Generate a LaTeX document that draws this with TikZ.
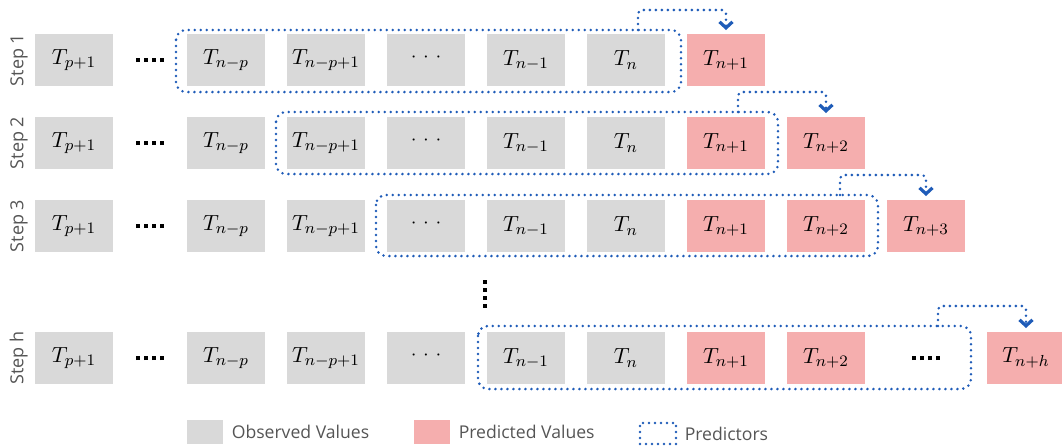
\documentclass[tikz,border=0pt]{standalone}
\usepackage{fontspec}
\setsansfont{Open Sans}
\usepackage{xcolor}
\usepackage{tikz}
\usetikzlibrary{positioning}
\usetikzlibrary{arrows.meta}
\definecolor{obsgray}{HTML}{D9D9D9}
\definecolor{predpink}{HTML}{F5AEAE}
\definecolor{predblue}{HTML}{1F5CB8}
\definecolor{labelgray}{HTML}{555555}
\newcommand{\fourdots}{\rule{2pt}{2pt}\hspace{2pt}\rule{2pt}{2pt}\hspace{2pt}\rule{2pt}{2pt}\hspace{2pt}\rule{2pt}{2pt}}
\newcommand{\midskip}{\textperiodcentered\kern-2.2pt\textperiodcentered\kern-2.2pt\textperiodcentered}

\begin{document}
\begin{tikzpicture}[x=0.5pt,y=-0.5pt,node distance=11pt,
	val node/.style={rectangle, minimum width=39pt, minimum height=26pt, inner sep=0pt, outer sep=0pt, font=\fontsize{11}{13}\selectfont},
	obs node/.style={val node, fill=obsgray},
	pred node/.style={val node, fill=predpink},
	gap node/.style={minimum width=15pt, minimum height=26pt, inner sep=0pt, outer sep=0pt},
	step label/.style={rotate=90, anchor=south, inner sep=0pt, font=\sffamily\fontsize{9}{11}\selectfont, text=labelgray},
	window/.style={draw=predblue, line width=1.4pt, line cap=round, dash pattern=on 0pt off 3pt, rounded corners=5pt},
	feed/.style={window, rounded corners=2pt, -{Straight Barb[length=3pt,width=6.5pt,line width=1.6pt]}},
	key box/.style={rectangle, minimum width=18pt, minimum height=12pt, inner sep=0pt},
	legend text/.style={inner sep=0pt, font=\sffamily\fontsize{8.8}{10}\selectfont, text=labelgray}]
			\useasboundingbox (0,0) rectangle (1062,447);
			
			% Step 1
			\node[obs node] (a0) at (74,60) {$T_{p+1}$};
			\node[gap node, right=of a0] (a1) {\fourdots};
			\node[obs node, right=of a1] (a2) {$T_{n-p}$};
			\node[obs node, right=of a2] (a3) {$T_{n-p+1}$};
			\node[obs node, right=of a3] (a4) {\midskip};
			\node[obs node, right=of a4] (a5) {$T_{n-1}$};
			\node[obs node, right=of a5] (a6) {$T_n$};
			\node[pred node, right=of a6] (a7) {$T_{n+1}$};
			\node[step label] (la) at ([xshift=-3.5pt]a0.west) {Step 1};
			
			\draw[window] ([xshift=-5.5pt,yshift=2pt]a2.north west) rectangle ([xshift=8pt,yshift=-3pt]a6.south east);
			\draw[feed] ([xshift=6pt,yshift=2pt]a6.north) -- ++(0,10pt) -| ([yshift=2pt]a7.north);
			
			% Step 2
			\node[obs node] (b0) at (74,143) {$T_{p+1}$};
			\node[gap node, right=of b0] (b1) {\fourdots};
			\node[obs node, right=of b1] (b2) {$T_{n-p}$};
			\node[obs node, right=of b2] (b3) {$T_{n-p+1}$};
			\node[obs node, right=of b3] (b4) {\midskip};
			\node[obs node, right=of b4] (b5) {$T_{n-1}$};
			\node[obs node, right=of b5] (b6) {$T_n$};
			\node[pred node, right=of b6] (b7) {$T_{n+1}$};
			\node[pred node, right=of b7] (b8) {$T_{n+2}$};
			\node[step label] (lb) at ([xshift=-3.5pt]b0.west) {Step 2};
			
			\draw[window] ([xshift=-5.5pt,yshift=2.5pt]b3.north west) rectangle ([xshift=6.5pt,yshift=-2.5pt]b7.south east);
			\draw[feed] ([xshift=6pt,yshift=2.5pt]b7.north) -- ++(0,10pt) -| ([yshift=2pt]b8.north);
			
			% Step 3
			\node[obs node] (c0) at (74,226) {$T_{p+1}$};
			\node[gap node, right=of c0] (c1) {\fourdots};
			\node[obs node, right=of c1] (c2) {$T_{n-p}$};
			\node[obs node, right=of c2] (c3) {$T_{n-p+1}$};
			\node[obs node, right=of c3] (c4) {\midskip};
			\node[obs node, right=of c4] (c5) {$T_{n-1}$};
			\node[obs node, right=of c5] (c6) {$T_n$};
			\node[pred node, right=of c6] (c7) {$T_{n+1}$};
			\node[pred node, right=of c7] (c8) {$T_{n+2}$};
			\node[pred node, right=of c8] (c9) {$T_{n+3}$};
			\node[step label] (lc) at ([xshift=-3.5pt]c0.west) {Step 3};
			
			\draw[window] ([xshift=-5.5pt,yshift=2.5pt]c4.north west) rectangle ([xshift=6.5pt,yshift=-2pt]c8.south east);
			\draw[feed] ([xshift=7pt,yshift=2.5pt]c8.north) -- ++(0,10pt) -| ([yshift=2pt]c9.north);
			
			\node[rotate=90, inner sep=0pt] (vd) at (485,294) {\fourdots};
			
			% Step h
			\node[obs node] (h0) at (74,358) {$T_{p+1}$};
			\node[gap node, right=of h0] (h1) {\fourdots};
			\node[obs node, right=of h1] (h2) {$T_{n-p}$};
			\node[obs node, right=of h2] (h3) {$T_{n-p+1}$};
			\node[obs node, right=of h3] (h4) {\midskip};
			\node[obs node, right=of h4] (h5) {$T_{n-1}$};
			\node[obs node, right=of h5] (h6) {$T_n$};
			\node[pred node, right=of h6] (h7) {$T_{n+1}$};
			\node[pred node, right=of h7] (h8) {$T_{n+2}$};
			\node[val node, right=of h8] (h9) {\fourdots\hspace{11pt}};
			\node[pred node, right=of h9] (h10) {$T_{n+h}$};
			\node[step label] (lh) at ([xshift=-3.5pt]h0.west) {Step h};
			
			\draw[window] ([xshift=-4.5pt,yshift=3pt]h5.north west) rectangle ([xshift=3pt,yshift=-2.5pt]h9.south east);
			\draw[feed] ([xshift=6pt,yshift=3pt]h9.north) -- ++(0,10pt) -| ([yshift=2pt]h10.north);
			
			% Legend
			\node[key box, fill=obsgray] (k1) at (205,432) {};
			\node[legend text, right=4pt of k1] (t1) {Observed Values};
			\node[key box, fill=predpink] (k2) at (432,432) {};
			\node[legend text, right=4pt of k2] (t2) {Predicted Values};
			\node[key box, window, rounded corners=0pt, minimum height=10.5pt] (k3) at (658,433.5) {};
			\node[legend text, right=3.5pt of k3] (t3) {Predictors};
			
		\end{tikzpicture}
\end{document}
